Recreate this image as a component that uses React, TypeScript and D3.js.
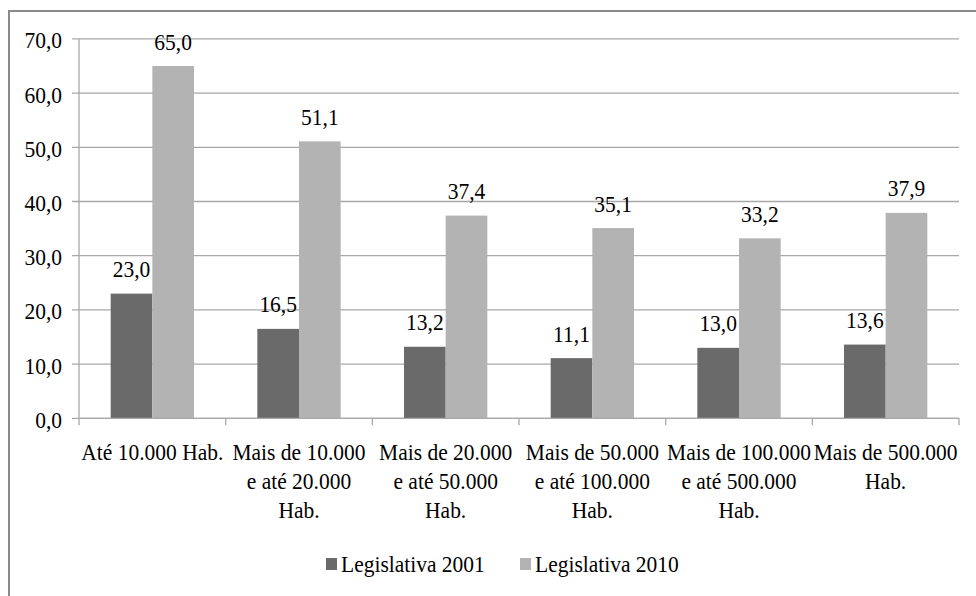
import React from "react";
import * as d3 from "d3";

const categories: string[][] = [
  ["Até 10.000 Hab."],
  ["Mais de 10.000", "e até 20.000", "Hab."],
  ["Mais de 20.000", "e até 50.000", "Hab."],
  ["Mais de 50.000", "e até 100.000", "Hab."],
  ["Mais de 100.000", "e até 500.000", "Hab."],
  ["Mais de 500.000", "Hab."],
];
const seriesNames = ["Legislativa 2001", "Legislativa 2010"];
const values2001 = [23.0, 16.5, 13.2, 11.1, 13.0, 13.6];
const values2010 = [65.0, 51.1, 37.4, 35.1, 33.2, 37.9];
const yTicks = [0, 10, 20, 30, 40, 50, 60, 70];
const colors = ["#6a6a6b", "#b3b3b3"];

const W = 976;
const H = 596;
const FONT = "'Liberation Serif', 'Times New Roman', serif";
const FS = 21.5;
const SY = 1.12;

const fmt = (v: number) => v.toFixed(1).replace(".", ",");

export default function App() {
  const left = 79;
  const right = 959;
  const top = 38.9;
  const bottom = 418.3;

  const x = d3
    .scaleBand<number>()
    .domain(categories.map((_, i) => i))
    .range([left, right])
    .paddingInner(0)
    .paddingOuter(0);
  const y = d3.scaleLinear().domain([0, 70]).range([bottom, top]);
  const groupW = x.bandwidth() * 0.568;
  const x1 = d3
    .scaleBand<number>()
    .domain([0, 1])
    .range([0, groupW]);

  const series = [values2001, values2010];

  const T = (props: {
    x: number;
    y: number;
    anchor?: string;
    children: React.ReactNode;
  }) => (
    <text
      transform={`translate(${props.x},${props.y}) scale(1,${SY})`}
      textAnchor={props.anchor || "middle"}
      fontFamily={FONT}
      fontSize={FS}
      fill="#000"
    >
      {props.children}
    </text>
  );

  return (
    <svg
      width={W}
      height={H}
      style={{ position: "absolute", left: 0, top: 0, background: "#fff" }}
    >
      <rect x={0} y={0} width={W} height={H} fill="#fff" />
      {/* outer border (extends past the image bottom and right) */}
      <line x1={9} y1={11} x2={W + 5} y2={11} stroke="#8a8a8a" strokeWidth={2} />
      <line x1={9} y1={10} x2={9} y2={H + 5} stroke="#8a8a8a" strokeWidth={2} />

      {/* gridlines and y ticks */}
      {yTicks.map((t) => (
        <g key={t}>
          <line
            x1={left - 7}
            x2={right}
            y1={y(t)}
            y2={y(t)}
            stroke="#a8a8a8"
            strokeWidth={1.3}
          />
          <T x={62} y={y(t) + 9.5} anchor="end">
            {fmt(t)}
          </T>
        </g>
      ))}
      {/* y axis line */}
      <line x1={left} x2={left} y1={top} y2={bottom} stroke="#a8a8a8" strokeWidth={1.3} />

      {/* x category ticks */}
      {d3.range(categories.length + 1).map((i) => {
        const xx = left + i * x.step();
        return (
          <line
            key={i}
            x1={xx}
            x2={xx}
            y1={bottom}
            y2={bottom + 7}
            stroke="#a8a8a8"
            strokeWidth={1.3}
          />
        );
      })}

      {/* bars */}
      {categories.map((_, i) => {
        const gx = (x(i) as number) + (x.bandwidth() - groupW) / 2;
        return (
          <g key={i}>
            {series.map((vals, s) => {
              const bx = gx + (x1(s) as number);
              const v = vals[i];
              return (
                <g key={s}>
                  <rect
                    x={bx}
                    y={y(v)}
                    width={x1.bandwidth()}
                    height={bottom - y(v)}
                    fill={colors[s]}
                  />
                  <T x={bx + x1.bandwidth() / 2} y={y(v) - 16.5}>
                    {fmt(v)}
                  </T>
                </g>
              );
            })}
          </g>
        );
      })}
      {/* x axis line on top */}
      <line x1={left} x2={right} y1={bottom} y2={bottom} stroke="#a8a8a8" strokeWidth={1.3} />

      {/* category labels */}
      {categories.map((lines, i) => {
        const cx = (x(i) as number) + x.bandwidth() / 2;
        return (
          <g key={i}>
            {lines.map((ln, k) => (
              <T key={k} x={cx} y={460 + k * 29}>
                {ln}
              </T>
            ))}
          </g>
        );
      })}

      {/* legend */}
      {seriesNames.map((name, s) => {
        const lx = s === 0 ? 326 : 520;
        return (
          <g key={name}>
            <rect x={lx} y={558} width={11} height={12} fill={colors[s]} />
            <T x={lx + 15} y={572} anchor="start">
              {name}
            </T>
          </g>
        );
      })}
    </svg>
  );
}
